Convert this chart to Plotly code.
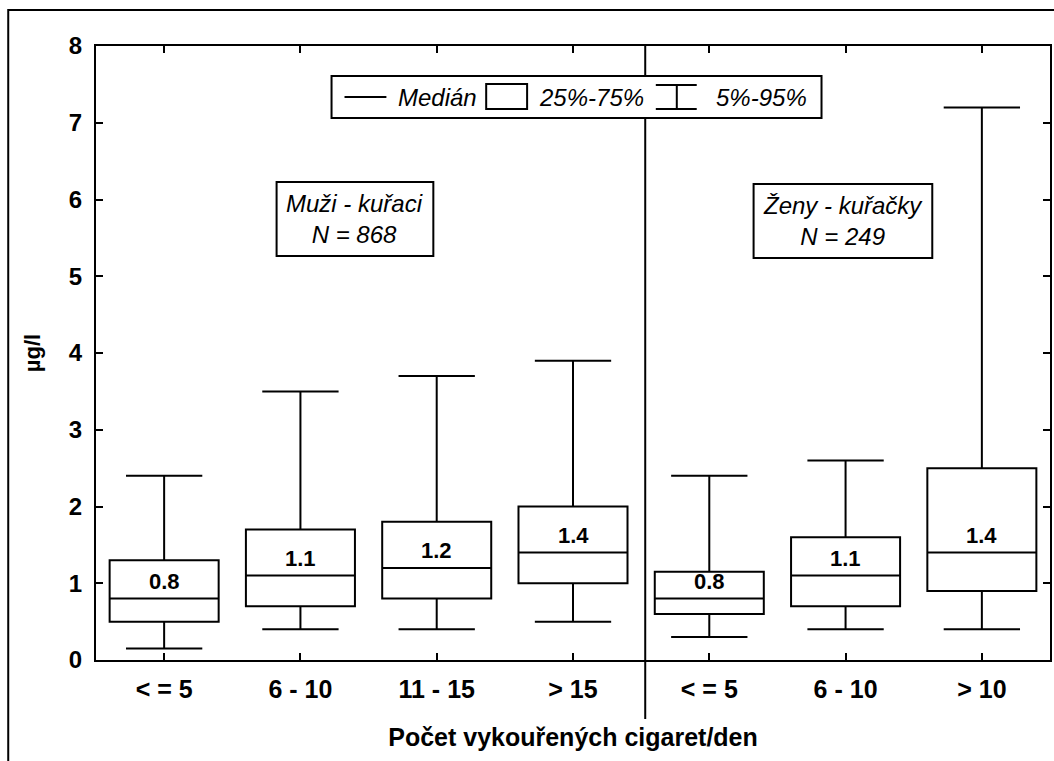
import plotly.graph_objects as go

# Cotinine-like concentration by cigarettes smoked per day (men | women)
categories = ["< = 5", "6 - 10", "11 - 15", "> 15", "< = 5", "6 - 10", "> 10"]
p05 = [0.15, 0.4, 0.4, 0.5, 0.3, 0.4, 0.4]
p25 = [0.5, 0.7, 0.8, 1.0, 0.6, 0.7, 0.9]
median = [0.8, 1.1, 1.2, 1.4, 0.8, 1.1, 1.4]
p75 = [1.3, 1.7, 1.8, 2.0, 1.15, 1.6, 2.5]
p95 = [2.4, 3.5, 3.7, 3.9, 2.4, 2.6, 7.2]
group_labels = ["Muži - kuřaci<br>N = 868", "Ženy - kuřačky<br>N = 249"]
legend_labels = ["Medián", "25%-75%", "5%-95%"]

positions = list(range(len(categories)))
FONT = "Liberation Sans, Arial, sans-serif"

fig = go.Figure()
fig.add_trace(go.Box(
    x=positions, q1=p25, median=median, q3=p75,
    lowerfence=p05, upperfence=p95,
    boxpoints=False, width=0.8, whiskerwidth=0.7,
    fillcolor="white", line=dict(color="black", width=2),
    showlegend=False, hoverinfo="skip",
))

annotations = []
# median value labels above each median line
for xi, m in zip(positions, median):
    annotations.append(dict(
        x=xi, y=m, xref="x", yref="y", text=f"{m:.1f}", showarrow=False,
        yanchor="bottom", yshift=3,
        font=dict(family=FONT, size=22, color="black", weight="bold"),
    ))

shapes = []
# outer frame
shapes.append(dict(type="rect", xref="paper", yref="paper",
                   x0=-0.092, x1=1.05, y0=-0.2, y1=1.0586,
                   line=dict(color="black", width=2), layer="below"))
# divider between men and women
shapes.append(dict(type="line", xref="x", yref="paper",
                   x0=3.53, x1=3.53, y0=-0.096, y1=1.0,
                   line=dict(color="black", width=2)))

# legend frame
shapes.append(dict(type="rect", xref="paper", yref="paper",
                   x0=0.2469, x1=0.7605, y0=0.8827, y1=0.9511,
                   fillcolor="white", line=dict(color="black", width=2)))
# legend: median line sample
shapes.append(dict(type="line", xref="paper", yref="paper",
                   x0=0.2605, x1=0.3044, y0=0.9169, y1=0.9169,
                   line=dict(color="black", width=2)))
# legend: box sample
shapes.append(dict(type="rect", xref="paper", yref="paper",
                   x0=0.4090, x1=0.4519, y0=0.8974, y1=0.9381,
                   fillcolor="white", line=dict(color="black", width=2)))
# legend: whisker sample
for yy in (0.8974, 0.9365):
    shapes.append(dict(type="line", xref="paper", yref="paper",
                       x0=0.5868, x1=0.6297, y0=yy, y1=yy,
                       line=dict(color="black", width=2)))
shapes.append(dict(type="line", xref="paper", yref="paper",
                   x0=0.6088, x1=0.6088, y0=0.8974, y1=0.9365,
                   line=dict(color="black", width=2)))

legend_x = [0.3149, 0.4623, 0.6475]
for lx, txt in zip(legend_x, legend_labels):
    annotations.append(dict(
        x=lx, y=0.9169, xref="paper", yref="paper", text=txt,
        showarrow=False, xanchor="left", yanchor="middle",
        font=dict(family=FONT, size=24, color="black", style="italic"),
    ))

# group boxes
group_boxes = [(0.1893, 0.3536, 0.658, 0.7785), (0.6893, 0.8766, 0.6547, 0.7752)]
for (x0, x1, y0, y1), txt in zip(group_boxes, group_labels):
    shapes.append(dict(type="rect", xref="paper", yref="paper",
                       x0=x0, x1=x1, y0=y0, y1=y1,
                       fillcolor="white", line=dict(color="black", width=2)))
    annotations.append(dict(
        x=(x0 + x1) / 2, y=(y0 + y1) / 2, xref="paper", yref="paper",
        text=txt, showarrow=False, xanchor="center", yanchor="middle",
        font=dict(family=FONT, size=24, color="black", style="italic"),
    ))

fig.update_layout(
    width=1054, height=761,
    margin=dict(l=96, r=2, t=46, b=101),
    paper_bgcolor="white", plot_bgcolor="white",
    font=dict(family=FONT, color="black"),
    shapes=shapes, annotations=annotations,
    xaxis=dict(
        range=[-0.5, 6.5], tickmode="array", tickvals=positions, ticktext=categories,
        ticks="inside", ticklen=7, tickwidth=2, tickcolor="black",
        showline=True, linecolor="black", linewidth=2, mirror="ticks",
        showgrid=False, zeroline=False,
        tickfont=dict(family=FONT, size=25, color="black", weight="bold"),
        ticklabelstandoff=6,
        title=dict(text="Počet vykouřených cigaret/den", standoff=26,
                   font=dict(family=FONT, size=25, color="black", weight="bold")),
    ),
    yaxis=dict(
        range=[0, 8], tickmode="linear", tick0=0, dtick=1,
        ticks="inside", ticklen=7, tickwidth=2, tickcolor="black",
        showline=True, linecolor="black", linewidth=2, mirror="ticks",
        showgrid=False, zeroline=False,
        tickfont=dict(family=FONT, size=24, color="black", weight="bold"),
        ticklabelstandoff=7,
        title=dict(text="µg/l", standoff=22,
                   font=dict(family=FONT, size=22, color="black", weight="bold")),
    ),
)

fig.write_html("out.html")
